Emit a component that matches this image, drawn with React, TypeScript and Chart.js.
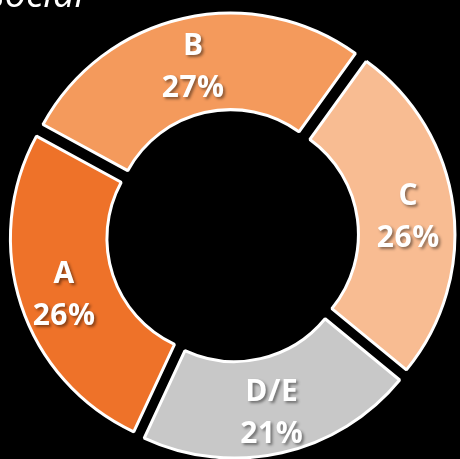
import React, { useEffect, useRef } from "react";
import { Chart, registerables } from "chart.js";

Chart.register(...registerables);

const categories = ["A", "B", "C", "D/E"];
const shares = [26, 27, 26, 21];
const sliceColors = ["#EE7229", "#F49A5C", "#F8BC92", "#C8C8C8"];
const captionText = "social";

export default function App() {
  const ref = useRef<HTMLCanvasElement>(null);

  useEffect(() => {
    if (!ref.current) return;

    const labelPlugin = {
      id: "sliceLabels",
      afterDatasetsDraw(chart: any) {
        const ctx = chart.ctx;
        const meta = chart.getDatasetMeta(0);
        ctx.save();
        ctx.font = 'bold 30px "Open Sans"';
        try {
          (ctx as any).letterSpacing = "0.5px";
        } catch (e) {}
        ctx.textAlign = "center";
        ctx.textBaseline = "alphabetic";
        ctx.fillStyle = "#ffffff";
        ctx.shadowColor = "rgba(0,0,0,0.45)";
        ctx.shadowOffsetX = 2;
        ctx.shadowOffsetY = 2;
        ctx.shadowBlur = 3;
        meta.data.forEach((arc: any, i: number) => {
          const p = arc.getProps(
            ["x", "y", "startAngle", "endAngle", "innerRadius", "outerRadius"],
            true
          );
          const mid = (p.startAngle + p.endAngle) / 2;
          const r = (p.innerRadius + p.outerRadius) / 2 + 12;
          const cx = p.x + Math.cos(mid) * r;
          const cy = p.y + Math.sin(mid) * r + 2.5;
          ctx.fillText(categories[i], cx, cy - 21 + 11);
          ctx.fillText(shares[i] + "%", cx, cy + 21 + 11);
        });
        ctx.restore();
      },
    };

    const captionPlugin = {
      id: "caption",
      afterDraw(chart: any) {
        const ctx = chart.ctx;
        ctx.save();
        ctx.font = 'italic 38px "Open Sans"';
        ctx.fillStyle = "#ffffff";
        ctx.textAlign = "right";
        ctx.textBaseline = "alphabetic";
        ctx.fillText(captionText, 84, 7);
        ctx.restore();
      },
    };

    const chart = new Chart(ref.current, {
      type: "doughnut",
      data: {
        labels: categories,
        datasets: [
          {
            data: shares,
            backgroundColor: sliceColors,
            borderColor: "#ffffff",
            borderWidth: 3,
            offset: 36,
            hoverOffset: 36,
            clip: false as any,
          },
        ],
      },
      options: {
        animation: false,
        responsive: false,
        maintainAspectRatio: false,
        rotation: 205,
        radius: 213.5,
        cutout: "54.8%",
        layout: { padding: { left: 5, top: 12, right: 0, bottom: 0 } },
        plugins: {
          legend: { display: false },
          tooltip: { enabled: false },
          title: { display: false },
        },
        events: [],
      },
      plugins: [labelPlugin, captionPlugin],
    });

    return () => chart.destroy();
  }, []);

  return (
    <div
      style={{
        position: "absolute",
        left: 0,
        top: 0,
        width: 460,
        height: 459,
        background: "#000000",
        overflow: "hidden",
      }}
    >
      <canvas ref={ref} width={460} height={459} style={{ display: "block" }} />
    </div>
  );
}
